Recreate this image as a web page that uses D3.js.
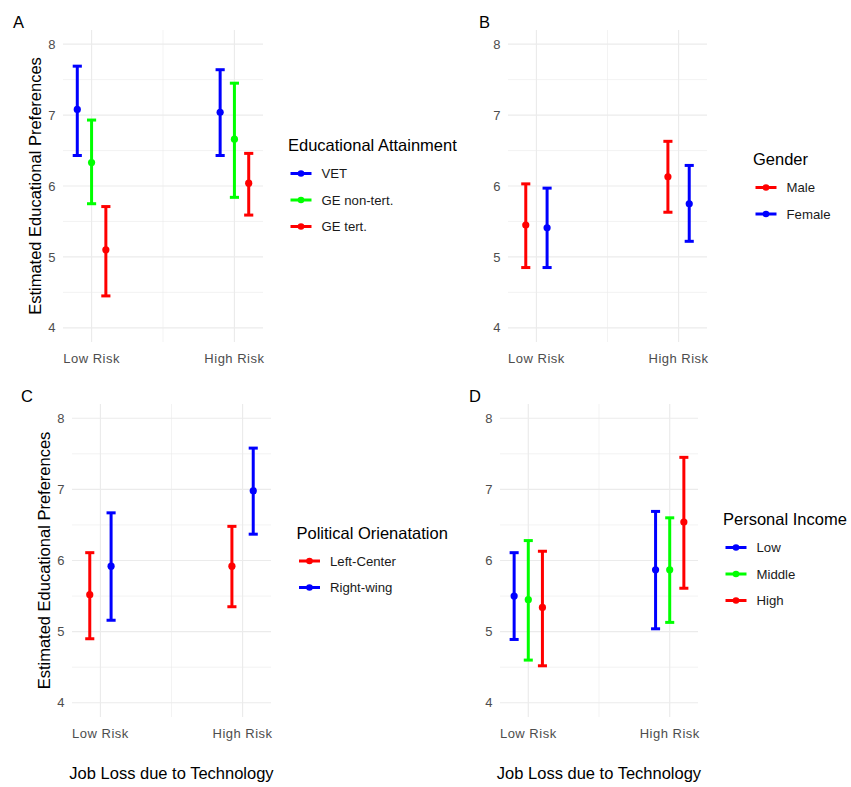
<!DOCTYPE html>
<html>
<head>
<meta charset="utf-8">
<script src="https://cdn.jsdelivr.net/npm/d3@7"></script>
<style>
  body { margin: 0; background: #fff; }
  svg { font-family: "Liberation Sans", Arial, sans-serif; display: block; }
  .tick-lbl { fill: #4d4d4d; font-size: 13px; letter-spacing: 0.5px; }
  .ttl { fill: #000; font-size: 16.5px; }
  .leg-lbl { fill: #1a1a1a; font-size: 13.2px; }
  .tag { fill: #000; font-size: 16.5px; }
</style>
</head>
<body>
<div id="chart"></div>
<script>
/* categorías del eje x y ticks del eje y */
const riskLevels = ["Low Risk", "High Risk"];
const yTicks = [4, 5, 6, 7, 8];
const yMinor = [4.5, 5.5, 6.5, 7.5];

/* A: nivel educativo (cada fila = grupo, columnas = Low, High) */
const eduGroups = ["VET", "GE non-tert.", "GE tert."];
const eduColors = ["#0000ff", "#00ff00", "#ff0000"];
const eduEst = [[7.08, 7.04], [6.33, 6.66], [5.10, 6.04]];
const eduLow = [[6.43, 6.43], [5.75, 5.84], [4.45, 5.59]];
const eduHigh = [[7.69, 7.64], [6.93, 7.45], [5.71, 6.46]];

/* B: género */
const genderGroups = ["Male", "Female"];
const genderColors = ["#ff0000", "#0000ff"];
const genderEst = [[5.45, 6.13], [5.41, 5.75]];
const genderLow = [[4.85, 5.63], [4.85, 5.22]];
const genderHigh = [[6.03, 6.63], [5.97, 6.29]];

/* C: orientación política */
const polGroups = ["Left-Center", "Right-wing"];
const polColors = ["#ff0000", "#0000ff"];
const polEst = [[5.52, 5.92], [5.92, 6.98]];
const polLow = [[4.90, 5.35], [5.16, 6.37]];
const polHigh = [[6.11, 6.48], [6.67, 7.58]];

/* D: ingreso personal */
const incGroups = ["Low", "Middle", "High"];
const incColors = ["#0000ff", "#00ff00", "#ff0000"];
const incEst = [[5.50, 5.87], [5.45, 5.87], [5.34, 6.54]];
const incLow = [[4.89, 5.04], [4.60, 5.13], [4.52, 5.61]];
const incHigh = [[6.11, 6.69], [6.28, 6.60], [6.13, 7.45]];

const W = 851, H = 787;
const svg = d3.select('#chart').append('svg')
  .attr('width', W).attr('height', H)
  .attr('viewBox', [0, 0, W, H]);

const panel = (cfg) => {
  const g = svg.append('g');
  const x = d3.scaleLinear().domain([0.8, 2.2]).range([cfg.left, cfg.right]);
  const y = d3.scaleLinear().domain([3.8, 8.2]).range([cfg.bottom, cfg.top]);
  const n = cfg.groups.length;
  const dodge = i => (i - (n - 1) / 2) * 0.3 / n;
  const cap = 0.032;

  /* grilla */
  g.selectAll('.hmin').data(yMinor).join('line')
    .attr('x1', cfg.left).attr('x2', cfg.right)
    .attr('y1', d => y(d)).attr('y2', d => y(d))
    .attr('stroke', '#ebebeb').attr('stroke-width', 0.6);
  g.selectAll('.vmin').data([1.5]).join('line')
    .attr('x1', d => x(d)).attr('x2', d => x(d))
    .attr('y1', cfg.top).attr('y2', cfg.bottom)
    .attr('stroke', '#ebebeb').attr('stroke-width', 0.6);
  g.append('g').selectAll('line').data(yTicks).join('line')
    .attr('x1', cfg.left).attr('x2', cfg.right)
    .attr('y1', d => y(d)).attr('y2', d => y(d))
    .attr('stroke', '#ebebeb').attr('stroke-width', 1.2);
  g.append('g').selectAll('line').data([1, 2]).join('line')
    .attr('x1', d => x(d)).attr('x2', d => x(d))
    .attr('y1', cfg.top).attr('y2', cfg.bottom)
    .attr('stroke', '#ebebeb').attr('stroke-width', 1.2);

  /* ticks */
  g.append('g').selectAll('text').data(yTicks).join('text')
    .attr('class', 'tick-lbl')
    .attr('x', cfg.left - 7).attr('y', d => y(d))
    .attr('text-anchor', 'end').attr('dy', '0.36em')
    .text(d => d);
  g.append('g').selectAll('text').data(riskLevels).join('text')
    .attr('class', 'tick-lbl')
    .attr('x', (d, i) => x(i + 1)).attr('y', cfg.bottom + 21)
    .attr('text-anchor', 'middle')
    .text(d => d);

  /* barras de error + puntos */
  const rows = [];
  cfg.groups.forEach((grp, gi) => {
    riskLevels.forEach((r, ri) => {
      rows.push({ xv: ri + 1 + dodge(gi), est: cfg.est[gi][ri], lo: cfg.lo[gi][ri],
        hi: cfg.hi[gi][ri], color: cfg.colors[gi] });
    });
  });
  const eb = g.append('g').selectAll('g').data(rows).join('g')
    .attr('stroke', d => d.color).attr('stroke-width', 3).attr('fill', 'none');
  eb.append('line')
    .attr('x1', d => x(d.xv)).attr('x2', d => x(d.xv))
    .attr('y1', d => y(d.lo)).attr('y2', d => y(d.hi));
  eb.append('line')
    .attr('x1', d => x(d.xv - cap)).attr('x2', d => x(d.xv + cap))
    .attr('y1', d => y(d.hi)).attr('y2', d => y(d.hi));
  eb.append('line')
    .attr('x1', d => x(d.xv - cap)).attr('x2', d => x(d.xv + cap))
    .attr('y1', d => y(d.lo)).attr('y2', d => y(d.lo));
  g.append('g').selectAll('circle').data(rows).join('circle')
    .attr('cx', d => x(d.xv)).attr('cy', d => y(d.est))
    .attr('r', 3.6).attr('fill', d => d.color);

  /* títulos de ejes */
  if (cfg.yTitle) {
    const cy = (cfg.top + cfg.bottom) / 2;
    g.append('text').attr('class', 'ttl')
      .attr('transform', `translate(${cfg.left - 28},${cy}) rotate(-90)`)
      .attr('text-anchor', 'middle').attr('dy', '0.36em')
      .text('Estimated Educational Preferences');
  }
  if (cfg.xTitle) {
    g.append('text').attr('class', 'ttl')
      .attr('x', (cfg.left + cfg.right) / 2).attr('y', cfg.bottom + 62)
      .attr('text-anchor', 'middle')
      .text('Job Loss due to Technology');
  }

  /* etiqueta del panel */
  g.append('text').attr('class', 'tag')
    .attr('x', cfg.tagX).attr('y', cfg.top - 2)
    .text(cfg.tag);

  /* leyenda */
  const leg = g.append('g').attr('transform', `translate(${cfg.legX},${cfg.legY})`);
  leg.append('text').attr('class', 'ttl').attr('x', 0).attr('y', 0).text(cfg.legTitle);
  const items = leg.selectAll('.item').data(cfg.groups).join('g')
    .attr('transform', (d, i) => `translate(0,${22.5 + i * 26.5})`);
  items.append('line')
    .attr('x1', 2.5).attr('x2', 23.5).attr('y1', 0).attr('y2', 0)
    .attr('stroke', (d, i) => cfg.colors[i]).attr('stroke-width', 3);
  items.append('circle')
    .attr('cx', 13).attr('cy', 0).attr('r', 3.3)
    .attr('fill', (d, i) => cfg.colors[i]);
  items.append('text').attr('class', 'leg-lbl')
    .attr('x', 33.5).attr('y', 0).attr('dy', '0.36em')
    .text(d => d);
};

panel({ left: 63, right: 263, top: 30, bottom: 342, tag: 'A', tagX: 13,
  yTitle: true, xTitle: false, groups: eduGroups, colors: eduColors,
  est: eduEst, lo: eduLow, hi: eduHigh,
  legTitle: 'Educational Attainment', legX: 288, legY: 151 });

panel({ left: 508, right: 707, top: 30, bottom: 342, tag: 'B', tagX: 479,
  yTitle: false, xTitle: false, groups: genderGroups, colors: genderColors,
  est: genderEst, lo: genderLow, hi: genderHigh,
  legTitle: 'Gender', legX: 753, legY: 165 });

panel({ left: 72, right: 271, top: 404, bottom: 717, tag: 'C', tagX: 21,
  yTitle: true, xTitle: true, groups: polGroups, colors: polColors,
  est: polEst, lo: polLow, hi: polHigh,
  legTitle: 'Political Orienatation', legX: 296.5, legY: 538.5 });

panel({ left: 500, right: 698, top: 404, bottom: 717, tag: 'D', tagX: 469,
  yTitle: false, xTitle: true, groups: incGroups, colors: incColors,
  est: incEst, lo: incLow, hi: incHigh,
  legTitle: 'Personal Income', legX: 723, legY: 525 });
</script>
</body>
</html>
